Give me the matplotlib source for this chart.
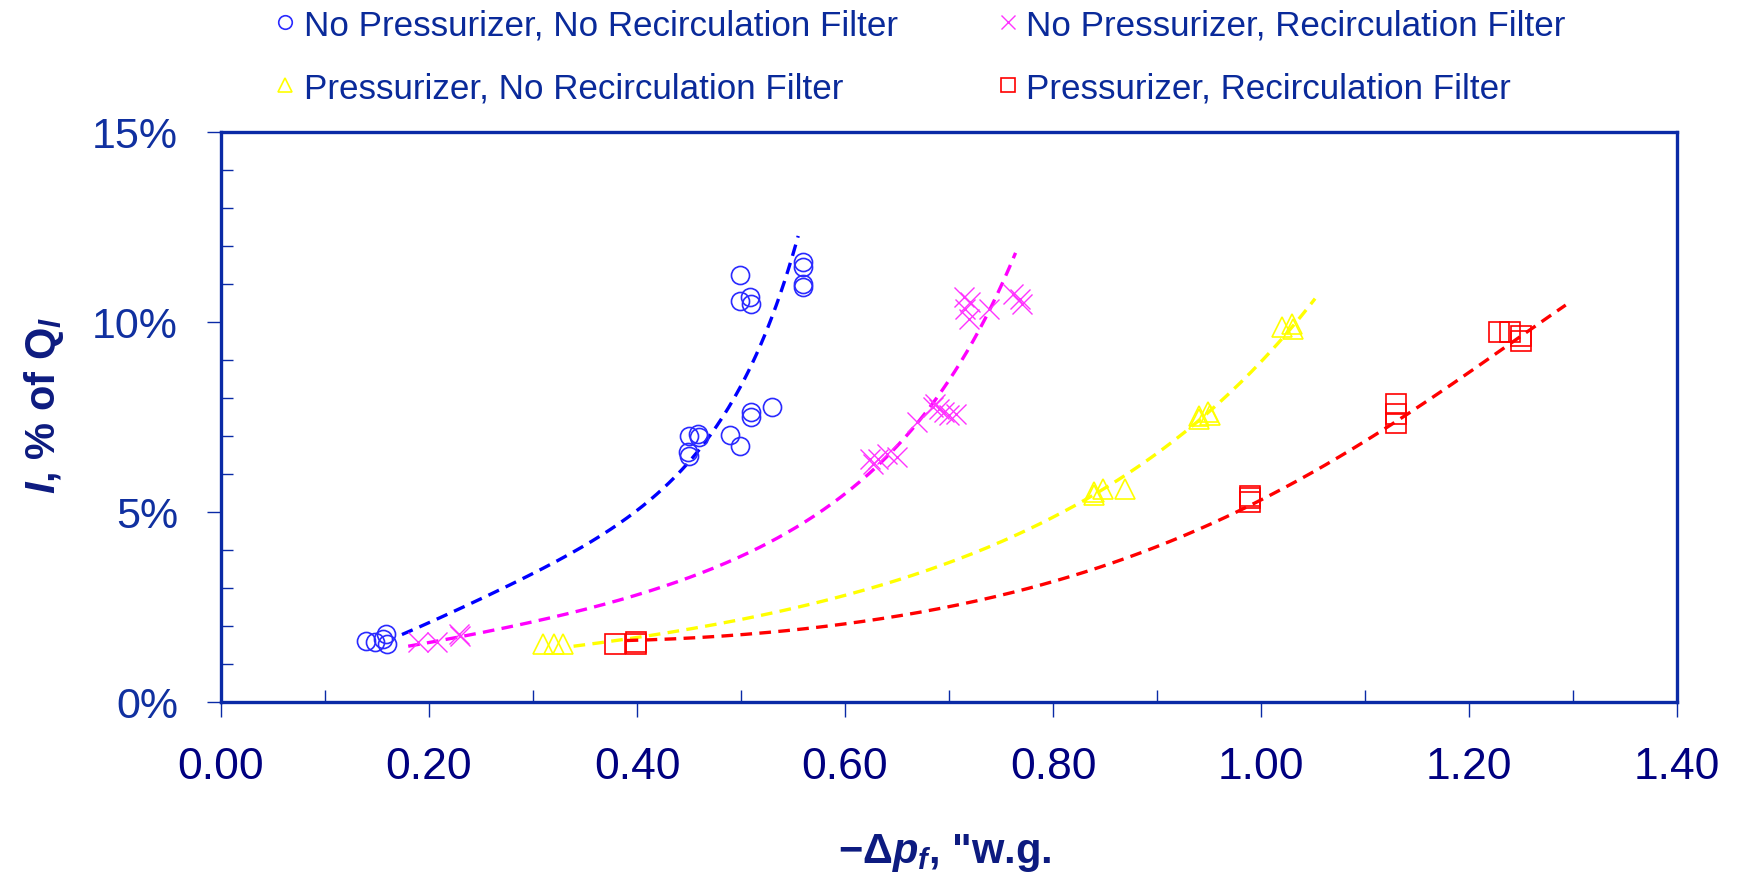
import numpy as np
import matplotlib
matplotlib.use('Agg')
from matplotlib import pyplot as plt
from matplotlib.ticker import MultipleLocator, FormatStrFormatter, FixedLocator, FixedFormatter

plt.rcParams['font.family'] = ['Liberation Sans', 'DejaVu Sans']
plt.rcParams['mathtext.fontset'] = 'custom'
plt.rcParams['mathtext.rm'] = 'Liberation Sans:bold'
plt.rcParams['mathtext.it'] = 'Liberation Sans:italic:bold'
plt.rcParams['mathtext.bf'] = 'Liberation Sans:bold'

# measured points, -dp_f ("w.g.) and I (% of Q_l)
npnr_x = [0.139, 0.148, 0.156, 0.159, 0.160, 0.499, 0.499, 0.509, 0.510, 0.560, 0.560, 0.560, 0.560,
          0.450, 0.459, 0.460, 0.449, 0.450, 0.489, 0.499, 0.510, 0.510, 0.530]
npnr_y = [1.60, 1.56, 1.65, 1.78, 1.51, 11.24, 10.56, 10.65, 10.47, 11.57, 11.44, 11.00, 10.91,
          7.00, 7.05, 6.96, 6.58, 6.47, 7.02, 6.72, 7.62, 7.49, 7.75]

nprf_x = [0.189, 0.208, 0.230, 0.229, 0.627, 0.632, 0.640, 0.650, 0.624, 0.669, 0.687, 0.690, 0.695,
          0.707, 0.685, 0.700, 0.714, 0.720, 0.719, 0.715, 0.738, 0.762, 0.768, 0.770]
nprf_y = [1.56, 1.56, 1.73, 1.78, 6.25, 6.39, 6.52, 6.43, 6.39, 7.35, 7.84, 7.70, 7.62,
          7.57, 7.75, 7.55, 10.65, 10.51, 10.07, 10.34, 10.34, 10.73, 10.60, 10.47]

pnr_x = [0.310, 0.320, 0.329, 0.839, 0.839, 0.848, 0.869, 0.940, 0.949, 0.940, 0.951, 1.020, 1.030, 1.031]
pnr_y = [1.51, 1.51, 1.51, 5.51, 5.45, 5.60, 5.60, 7.53, 7.62, 7.45, 7.55, 9.86, 9.94, 9.81]

prf_x = [0.379, 0.399, 0.399, 0.989, 0.989, 0.989, 1.130, 1.130, 1.130, 1.229, 1.239, 1.250, 1.250]
prf_y = [1.51, 1.51, 1.56, 5.42, 5.25, 5.35, 7.84, 7.57, 7.34, 9.72, 9.74, 9.63, 9.50]

# points
npnr_tx = [0.174, 0.239, 0.297, 0.361, 0.413, 0.457, 0.477, 0.502, 0.521, 0.534, 0.544, 0.555]
npnr_ty = [1.78, 2.52, 3.31, 4.37, 5.42, 6.61, 7.04, 8.32, 9.55, 10.42, 11.21, 12.47]

nprf_tx = [0.180, 0.249, 0.329, 0.409, 0.489, 0.586, 0.634, 0.672, 0.701, 0.727, 0.746, 0.764]
nprf_ty = [1.47, 1.78, 2.26, 2.96, 3.67, 5.20, 6.25, 7.35, 8.41, 9.81, 10.86, 11.70]

pnr_tx = [0.339, 0.425, 0.576, 0.640, 0.704, 0.768, 0.832, 0.890, 0.935, 0.980, 1.018, 1.052]
pnr_ty = [1.47, 1.78, 2.52, 3.14, 3.84, 4.54, 5.30, 6.25, 7.10, 8.30, 9.55, 10.78]

prf_tx = [0.390, 0.480, 0.576, 0.640, 0.704, 0.768, 0.832, 0.896, 0.945, 0.993, 1.066, 1.147, 1.211, 1.293]
prf_ty = [1.60, 1.75, 1.95, 2.17, 2.48, 2.96, 3.49, 4.02, 4.59, 5.25, 6.30, 7.62, 8.76, 10.56]

labels = ['No Pressurizer, No Recirculation Filter', 'No Pressurizer, Recirculation Filter',
          'Pressurizer, No Recirculation Filter', 'Pressurizer, Recirculation Filter']
y_ticks = [0, 5, 10, 15]
y_tick_labels = ['0%', '5%', '10%', '15%']

navy = '#0d1b80'
axc = '#0a2aa6'

fig = plt.figure(figsize=(17.37, 8.79), dpi=100)
ax = fig.add_axes([221 / 1737, 1 - 702.5 / 879, (1677 - 221) / 1737, (702.5 - 133) / 879])


def trend(tx, ty, color):
    # smooth curve: cubic fit of log(I) through the points
    c = np.polyfit(tx, np.log(ty), 3)
    xs = np.linspace(tx[0], tx[-1], 200)
    ax.plot(xs, np.exp(np.polyval(c, xs)), color=color, lw=2.4, dashes=(3.5, 2.2))


trend(npnr_tx, npnr_ty, '#0000ff')
trend(nprf_tx, nprf_ty, '#ff00ff')
trend(pnr_tx, pnr_ty, '#ffff00')
trend(prf_tx, prf_ty, '#ff0000')

h1, = ax.plot(npnr_x, npnr_y, 'o', ms=13, mfc='none', mec='#2a2aff', mew=1.2, label=labels[0])
h2, = ax.plot(nprf_x, nprf_y, 'x', ms=14, mec='#ff33ff', mew=1.0, label=labels[1])
h3, = ax.plot(pnr_x, pnr_y, '^', ms=14, mfc='none', mec='#ffff00', mew=1.2, label=labels[2])
h4, = ax.plot(prf_x, prf_y, 's', ms=14, mfc='none', mec='#ff0000', mew=1.2, label=labels[3])

ax.set_xlim(0, 1.4)
ax.set_ylim(0, 15)
ax.xaxis.set_major_locator(MultipleLocator(0.2))
ax.xaxis.set_minor_locator(MultipleLocator(0.1))
ax.xaxis.set_major_formatter(FormatStrFormatter('%.2f'))
ax.yaxis.set_major_locator(FixedLocator(y_ticks))
ax.yaxis.set_major_formatter(FixedFormatter(y_tick_labels))
ax.yaxis.set_minor_locator(MultipleLocator(1))

for s in ax.spines.values():
    s.set_color(axc)
    s.set_linewidth(2.4)
ax.tick_params(which='major', direction='out', color=axc, width=1.0)
ax.tick_params(which='minor', direction='in', color=axc, width=1.0, length=8.5)
ax.tick_params(axis='x', which='major', length=11, pad=21, labelsize=32, labelcolor='#000080')
ax.tick_params(axis='y', which='major', length=10, pad=21, labelsize=31, labelcolor='#1030a0')

fig.text(945 / 1737, 1 - 853 / 879, r'$-\Delta p_f$, "w.g.', fontsize=30, fontweight='bold',
         color=navy, ha='center', va='center')
fig.text(44 / 1737, 1 - 405 / 879, r'$I$, % of Q$_l$', fontsize=30, fontweight='bold',
         color=navy, ha='center', va='center', rotation=90)

leg = fig.legend(handles=[h1, h3, h2, h4], ncol=2, loc='upper left', bbox_to_anchor=(0.147, 1.0135),
                 frameon=False, fontsize=25.2, markerscale=0.75, handlelength=0.5, handletextpad=0.28,
                 columnspacing=2.9, labelspacing=0.86, borderpad=0.1)
for t in leg.get_texts():
    t.set_color('#0a2a9a')

fig.savefig('out.png', dpi=100)
